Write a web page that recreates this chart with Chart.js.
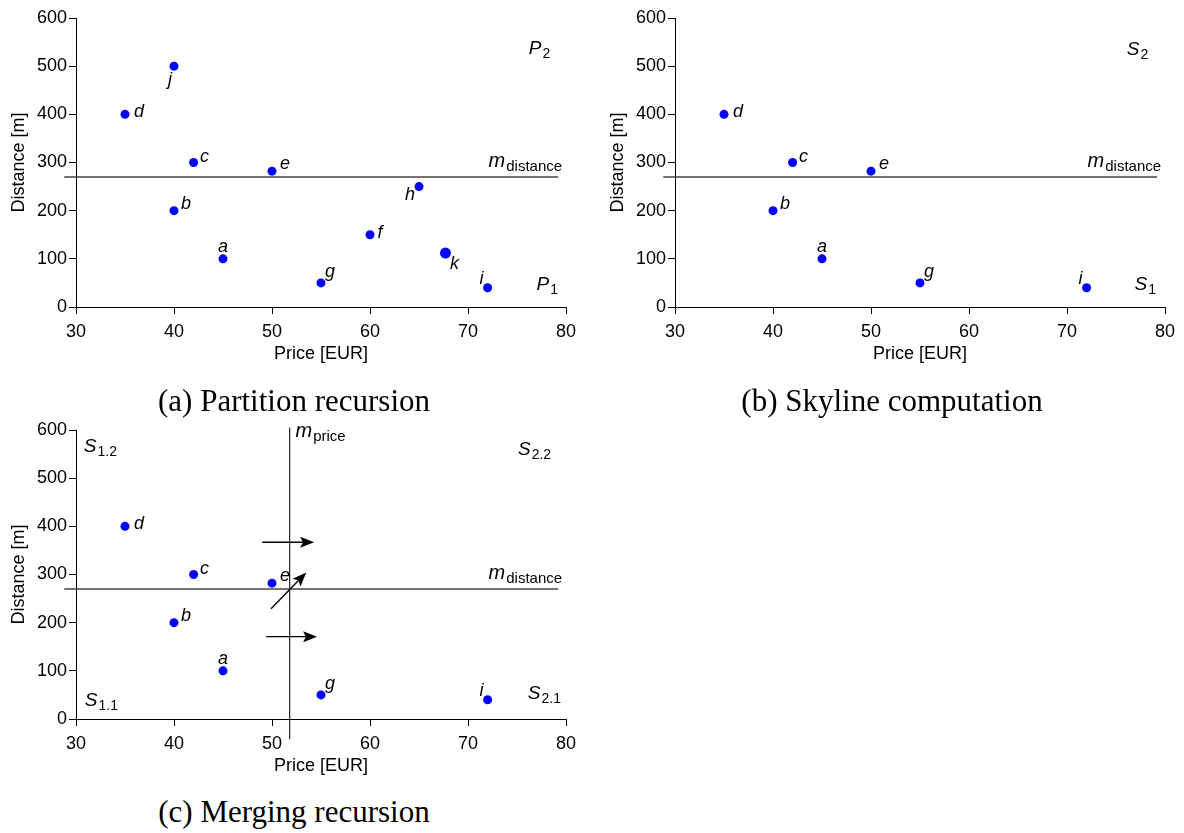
<!DOCTYPE html>
<html>
<head>
<meta charset="utf-8">
<script src="https://cdn.jsdelivr.net/npm/chart.js@4.4.1/dist/chart.umd.min.js"></script>
<style>
  body { margin: 0; background: #fff; width: 1184px; height: 833px; position: relative; overflow: hidden; }
  .panel { position: absolute; }
  .caption { position: absolute; width: 500px; text-align: center; color: #000;
             font-family: "Liberation Serif", "Times New Roman", serif; font-size: 31px; line-height: 36px; }
</style>
</head>
<body>
<div class="panel" style="left:0;top:0"><canvas id="chartA" width="585" height="380"></canvas></div>
<div class="panel" style="left:599px;top:0"><canvas id="chartB" width="585" height="380"></canvas></div>
<div class="panel" style="left:0;top:412px"><canvas id="chartC" width="585" height="380"></canvas></div>
<div class="caption" style="left:44px;top:383px">(a) Partition recursion</div>
<div class="caption" style="left:642px;top:383px">(b) Skyline computation</div>
<div class="caption" style="left:44px;top:794px">(c) Merging recursion</div>
<script>
// hotels: price [EUR] vs distance [m]
const hotelNames = ['a', 'b', 'c', 'd', 'e', 'f', 'g', 'h', 'i', 'j', 'k'];
const hotelPrices = [45, 40, 42, 35, 50, 60, 55, 65, 72, 40, 67.7];
const hotelDistances = [100, 200, 300, 400, 282, 150, 50, 250, 40, 500, 112];
const skylineNames = ['a', 'b', 'c', 'd', 'e', 'g', 'i'];

// split values
const medianDistance = 270;
const medianPrice = 51.8;
const distanceLineSpan = [28.8, 79.2];
const priceLineSpan = [-42, 605];

// merge arrows (price, distance)
const arrowFrom = [[49.0, 367], [49.9, 229], [49.4, 171]];
const arrowTo = [[54.3, 367], [53.5, 304], [54.6, 171]];

// label offsets in px from the dot
const labelOffsets = {
  a: [0, -12], b: [12, -7], c: [11, -6], d: [14, -2], e: [13, -7], f: [10, -2],
  g: [9, -11], h: [-9, 8], i: [-6, -9], j: [-4, 14], k: [9, 11]
};

const tickFont = { family: '"Liberation Sans", Arial, sans-serif', size: 18 };

function pick(names) {
  return names.map(n => {
    const i = hotelNames.indexOf(n);
    return { x: hotelPrices[i], y: hotelDistances[i], name: n };
  });
}

function drawSub(ctx, x, y, main, sub, mainSize, subSize, drop) {
  ctx.textAlign = 'left';
  ctx.textBaseline = 'alphabetic';
  ctx.font = 'italic ' + mainSize + 'px "Liberation Sans", Arial, sans-serif';
  ctx.fillText(main, x, y);
  const w = ctx.measureText(main).width;
  ctx.font = subSize + 'px "Liberation Sans", Arial, sans-serif';
  ctx.fillText(sub, x + w + 1, y + drop);
}

const sketchMarks = {
  id: 'sketchMarks',
  afterDatasetsDraw(chart, args, opts) {
    const { ctx, scales: { x, y } } = chart;
    ctx.save();
    ctx.fillStyle = '#000';
    ctx.strokeStyle = '#000';

    // point names
    ctx.font = 'italic 18px "Liberation Sans", Arial, sans-serif';
    ctx.textAlign = 'center';
    ctx.textBaseline = 'middle';
    const meta = chart.getDatasetMeta(0);
    meta.data.forEach((pt, i) => {
      const name = chart.data.datasets[0].data[i].name;
      const off = labelOffsets[name];
      ctx.fillText(name, pt.x + off[0], pt.y + off[1]);
    });

    // arrows
    (opts.arrows || []).forEach(([from, to]) => {
      const x0 = x.getPixelForValue(from[0]), y0 = y.getPixelForValue(from[1]);
      const x1 = x.getPixelForValue(to[0]), y1 = y.getPixelForValue(to[1]);
      const ang = Math.atan2(y1 - y0, x1 - x0);
      const cos = Math.cos(ang), sin = Math.sin(ang);
      const head = 14, half = 5.5;
      ctx.lineWidth = 1.4;
      ctx.beginPath();
      ctx.moveTo(x0, y0);
      ctx.lineTo(x1 - cos * head * 0.8, y1 - sin * head * 0.8);
      ctx.stroke();
      ctx.beginPath();
      ctx.moveTo(x1, y1);
      ctx.lineTo(x1 - cos * head - sin * half, y1 - sin * head + cos * half);
      ctx.lineTo(x1 - cos * head * 0.8, y1 - sin * head * 0.8);
      ctx.lineTo(x1 - cos * head + sin * half, y1 - sin * head - cos * half);
      ctx.closePath();
      ctx.fill();
    });

    // region and split labels
    (opts.regions || []).forEach(r => {
      const big = r.main === 'm' ? 20 : 19;
      const small = r.main === 'm' ? 15 : 14;
      drawSub(ctx, x.getPixelForValue(r.x), y.getPixelForValue(r.y), r.main, r.sub, big, small, 4);
    });
    ctx.restore();
  }
};

function makeChart(id, names, regions, arrows, withPriceSplit) {
  const datasets = [
    {
      type: 'scatter',
      data: pick(names),
      backgroundColor: '#0000ff',
      borderColor: '#0000ff',
      pointRadius: c => (c.raw && c.raw.name === 'k') ? 5.5 : 4.5,
      pointBorderWidth: 0,
      order: 1
    },
    {
      type: 'line',
      data: [{ x: distanceLineSpan[0], y: medianDistance }, { x: distanceLineSpan[1], y: medianDistance }],
      borderColor: '#444',
      borderWidth: 1.5,
      pointRadius: 0,
      clip: false,
      order: 2
    }
  ];
  if (withPriceSplit) {
    datasets.push({
      type: 'line',
      data: [{ x: medianPrice, y: priceLineSpan[0] }, { x: medianPrice, y: priceLineSpan[1] }],
      borderColor: '#222',
      borderWidth: 1.2,
      pointRadius: 0,
      clip: false,
      order: 2
    });
  }
  return new Chart(document.getElementById(id), {
    type: 'scatter',
    data: { datasets },
    options: {
      responsive: false,
      animation: false,
      layout: { padding: { top: 18, right: 19, left: 0, bottom: 0 } },
      plugins: {
        legend: { display: false },
        tooltip: { enabled: false },
        sketchMarks: { regions, arrows }
      },
      scales: {
        x: {
          type: 'linear', min: 30, max: 80,
          ticks: { stepSize: 10, color: '#000', font: tickFont, padding: 7 },
          grid: { drawOnChartArea: false, tickLength: 7, color: '#000' },
          border: { color: '#000' },
          title: { display: true, text: 'Price [EUR]', color: '#000', font: tickFont, padding: { bottom: 15 } },
          afterFit(s) { s.height = 73; }
        },
        y: {
          type: 'linear', min: 0, max: 600,
          ticks: { stepSize: 100, color: '#000', font: tickFont, padding: 2 },
          grid: { drawOnChartArea: false, tickLength: 7, color: '#000' },
          border: { color: '#000' },
          title: { display: true, text: 'Distance [m]', color: '#000', font: tickFont, padding: { top: 8 } },
          afterFit(s) { s.width = 76; }
        }
      }
    },
    plugins: [sketchMarks]
  });
}

makeChart('chartA', hotelNames, [
  { main: 'P', sub: '2', x: 76.2, y: 525 },
  { main: 'P', sub: '1', x: 77.0, y: 35 },
  { main: 'm', sub: 'distance', x: 72.1, y: 290 }
], [], false);

makeChart('chartB', skylineNames, [
  { main: 'S', sub: '2', x: 76.1, y: 523 },
  { main: 'S', sub: '1', x: 76.9, y: 35 },
  { main: 'm', sub: 'distance', x: 72.1, y: 290 }
], [], false);

makeChart('chartC', skylineNames, [
  { main: 'S', sub: '1.2', x: 30.8, y: 554 },
  { main: 'S', sub: '2.2', x: 75.1, y: 548 },
  { main: 'S', sub: '1.1', x: 30.9, y: 27 },
  { main: 'S', sub: '2.1', x: 76.1, y: 42 },
  { main: 'm', sub: 'price', x: 52.4, y: 585 },
  { main: 'm', sub: 'distance', x: 72.1, y: 290 }
], arrowFrom.map((f, i) => [f, arrowTo[i]]), true);
</script>
</body>
</html>
